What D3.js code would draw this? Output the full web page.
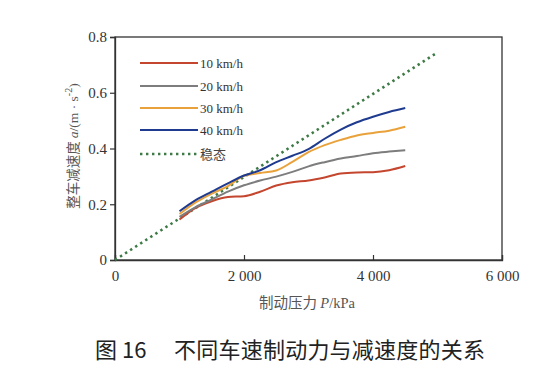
<!DOCTYPE html>
<html><head><meta charset="utf-8">
<script src="https://cdn.jsdelivr.net/npm/d3@7"></script>
<style>body{margin:0;background:#fff;} svg{display:block;}</style>
</head><body>
<svg id="c" width="547" height="392"></svg>
<script>
const pressure = [1000,1250,1500,1750,2000,2250,2500,2750,3000,3250,3500,3750,4000,4250,4500];
const v10 = [0.145,0.187,0.211,0.226,0.229,0.245,0.267,0.279,0.285,0.296,0.310,0.314,0.315,0.322,0.337];
const v20 = [0.155,0.190,0.217,0.245,0.268,0.285,0.299,0.316,0.336,0.351,0.364,0.373,0.383,0.389,0.394];
const v30 = [0.165,0.207,0.238,0.265,0.302,0.312,0.321,0.352,0.387,0.412,0.431,0.447,0.456,0.464,0.478];
const v40 = [0.175,0.215,0.245,0.275,0.303,0.322,0.351,0.374,0.398,0.435,0.468,0.494,0.514,0.531,0.545];
const steadyP = [0, 5000];
const steadyA = [0, 0.745];
const seriesNames = ["10 km/h","20 km/h","30 km/h","40 km/h"];
const seriesColors = ["#c4462e","#7d7d7d","#e9a23b","#1f3b8f"];
const steadyName = "稳态";
const xTicks = [0,2000,4000,6000];
const yTicks = [0,0.2,0.4,0.6,0.8];
const titleLabel = "图 16";
const titleText = "不同车速制动力与减速度的关系";

const svg = d3.select("#c");
const L=115, R=502, T=37, B=260;
const x = d3.scaleLinear().domain([0,6000]).range([L,R]);
const y = d3.scaleLinear().domain([0,0.8]).range([B,T]);
const serif = "'Liberation Serif','DejaVu Serif',serif";
const cjk = "'Noto Sans CJK SC','Noto Sans',sans-serif";

// frame
svg.append("rect").attr("x",L).attr("y",T).attr("width",R-L).attr("height",B-T)
  .attr("fill","none").attr("stroke","#333").attr("stroke-width",1.3);

const fmtX = d => d===0 ? "0" : d3.format(",")(d).replace(/,/g," ");
const xa = svg.append("g").attr("transform",`translate(0,${B})`)
  .call(d3.axisBottom(x).tickValues(xTicks).tickSize(-5).tickPadding(10).tickFormat(fmtX));
const ya = svg.append("g").attr("transform",`translate(${L},0)`)
  .call(d3.axisLeft(y).tickValues(yTicks).tickSize(5).tickPadding(3).tickFormat(d=> d===0?"0":d3.format(".1f")(d)));
[xa,ya].forEach(g=>{
  g.select(".domain").attr("stroke","#333").attr("stroke-width",1.3);
  g.selectAll(".tick line").attr("stroke","#333").attr("stroke-width",1.2);
  g.selectAll(".tick text").attr("font-family",serif).attr("font-size",15).attr("fill","#333");
});

const line = d3.line().x(d=>x(d[0])).y(d=>y(d[1])).curve(d3.curveMonotoneX);
// steady dotted
svg.append("path").datum(steadyP.map((p,i)=>[p,steadyA[i]]))
  .attr("d", d3.line().x(d=>x(d[0])).y(d=>y(d[1])))
  .attr("fill","none").attr("stroke","#3d7a45").attr("stroke-width",2.6)
  .attr("stroke-dasharray","2.4,3.6");
[v10,v20,v30,v40].forEach((vals,i)=>{
  svg.append("path").datum(pressure.map((p,j)=>[p,vals[j]]))
    .attr("d",line).attr("fill","none").attr("stroke",seriesColors[i]).attr("stroke-width",2);
});

// legend
const lg = svg.append("g");
const rowY = [63,86,108,130,154];
seriesNames.forEach((n,i)=>{
  lg.append("line").attr("x1",140).attr("x2",198).attr("y1",rowY[i]).attr("y2",rowY[i])
    .attr("stroke",seriesColors[i]).attr("stroke-width",2);
  lg.append("text").attr("x",200).attr("y",rowY[i]+4.5).text(n)
    .attr("font-family",serif).attr("font-size",13).attr("fill","#333");
});
lg.append("line").attr("x1",140).attr("x2",198).attr("y1",rowY[4]).attr("y2",rowY[4])
  .attr("stroke","#3d7a45").attr("stroke-width",2.6).attr("stroke-dasharray","2.4,3.6");
lg.append("text").attr("x",200).attr("y",rowY[4]+4.5).text(steadyName)
  .attr("font-family",cjk).attr("font-size",13).attr("fill","#444");

// x label
const xl = svg.append("text").attr("x",307).attr("y",308).attr("text-anchor","middle")
  .attr("font-size",14.5).attr("fill","#555");
xl.append("tspan").attr("font-family",cjk).text("制动压力 ");
xl.append("tspan").attr("font-family",serif).attr("font-style","italic").text("P");
xl.append("tspan").attr("font-family",serif).text("/kPa");

// y label
const yl = svg.append("text").attr("transform","translate(78,146) rotate(-90)")
  .attr("text-anchor","middle").attr("font-size",13.5).attr("fill","#555");
yl.append("tspan").attr("font-family",cjk).text("整车减速度 ");
yl.append("tspan").attr("font-family",serif).attr("font-style","italic").text("a");
yl.append("tspan").attr("font-family",serif).text("/(m · s");
yl.append("tspan").attr("font-family",serif).attr("font-size",10).attr("dy",-6).text("-2");
yl.append("tspan").attr("font-family",serif).attr("dy",6).text(")");

// title
svg.append("text").attr("x",95).attr("y",358).attr("font-family",cjk).attr("font-size",22)
  .attr("fill","#222").text(titleLabel);
svg.append("text").attr("x",174).attr("y",358).attr("font-family",cjk).attr("font-size",22)
  .attr("fill","#222").attr("textLength",311).text(titleText);
</script>
</body></html>
